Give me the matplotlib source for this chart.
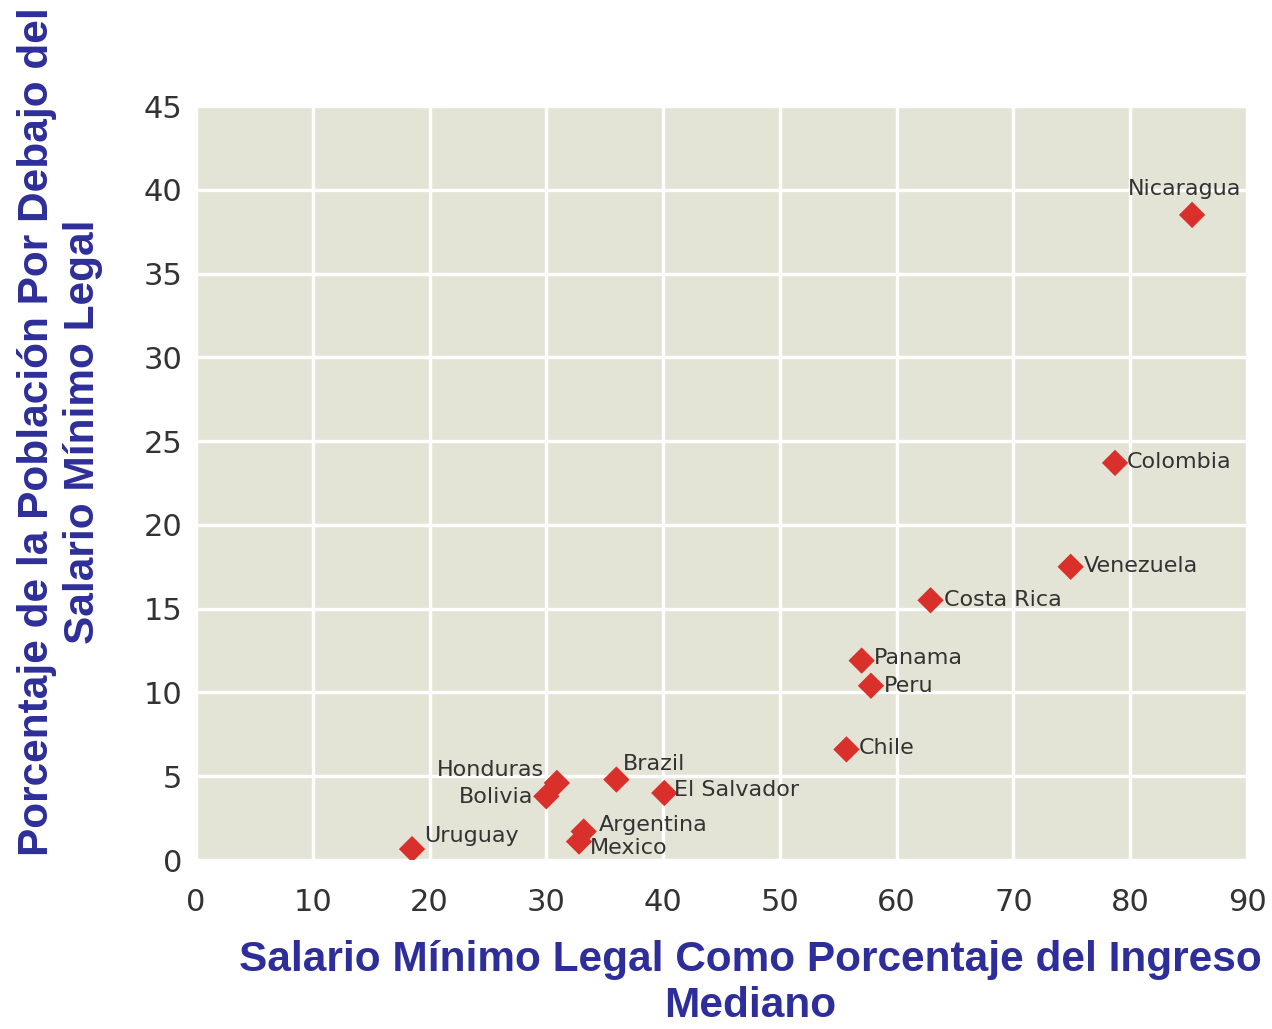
import matplotlib
matplotlib.use('Agg')
import matplotlib.pyplot as plt

countries = ['Nicaragua', 'Colombia', 'Venezuela', 'Costa Rica', 'Panama', 'Peru',
             'Chile', 'Brazil', 'El Salvador', 'Honduras', 'Bolivia',
             'Argentina', 'Mexico', 'Uruguay']
min_wage = [85.3, 78.7, 74.9, 62.9, 57.0, 57.8, 55.7, 36.0, 40.1, 30.9, 30.0, 33.2, 32.8, 18.5]
pct_below = [38.5, 23.7, 17.5, 15.5, 11.9, 10.4, 6.6, 4.8, 4.0, 4.6, 3.8, 1.7, 1.1, 0.65]

x_ticks = [0, 10, 20, 30, 40, 50, 60, 70, 80, 90]
y_ticks = [0, 5, 10, 15, 20, 25, 30, 35, 40, 45]

# label offsets in pixels (dx, dy, ha)
label_pos = {
    'Nicaragua': (-8, 26, 'center'),
    'Colombia': (12, 1, 'left'),
    'Venezuela': (13, 1, 'left'),
    'Costa Rica': (13, 0, 'left'),
    'Panama': (12, 3, 'left'),
    'Peru': (13, 0, 'left'),
    'Chile': (12, 1, 'left'),
    'Brazil': (6, 16, 'left'),
    'El Salvador': (10, 3, 'left'),
    'Honduras': (-13, 13, 'right'),
    'Bolivia': (-13, -1, 'right'),
    'Argentina': (15, 7, 'left'),
    'Mexico': (11, -6, 'left'),
    'Uruguay': (12, 13, 'left'),
}

blue = '#2e2e9a'

def main():
    fig = plt.figure(figsize=(12.72, 10.29), dpi=100)
    ax = fig.add_axes([196 / 1272, 169 / 1029, 1051 / 1272, 754 / 1029])
    ax.set_facecolor('#e4e4d6')
    ax.set_xlim(0, 90)
    ax.set_ylim(0, 45)
    ax.set_xticks(x_ticks)
    ax.set_yticks(y_ticks)
    ax.grid(True, color='white', linewidth=2.4)
    ax.set_axisbelow(True)
    for s in ax.spines.values():
        s.set_visible(False)
    ax.tick_params(length=0, labelsize=22, colors='#333333')
    ax.tick_params(axis='x', pad=20)
    ax.tick_params(axis='y', pad=10)

    ax.scatter(min_wage, pct_below, marker='D', s=180, color='#d9302c', zorder=3,
               edgecolors='none')

    for name, x, y in zip(countries, min_wage, pct_below):
        dx, dy, ha = label_pos[name]
        ax.annotate(name, (x, y), xytext=(dx * 0.72, dy * 0.72), textcoords='offset points',
                    ha=ha, va='center', fontsize=16, color='#333333', zorder=4)

    fig.text(750 / 1272, 1 - 983 / 1029,
             'Salario Mínimo Legal Como Porcentaje del Ingreso\nMediano',
             ha='center', va='center', fontsize=30.5, fontweight='bold', color=blue,
             family='Liberation Sans', linespacing=1.2)
    fig.text(60 / 1272, 1 - 432 / 1029,
             'Porcentaje de la Población Por Debajo del\nSalario Mínimo Legal',
             ha='center', va='center', rotation=90, fontsize=30.5, fontweight='bold',
             color=blue, family='Liberation Sans', linespacing=1.2)

    fig.savefig('out.png', dpi=100)

if __name__ == '__main__':
    main()
